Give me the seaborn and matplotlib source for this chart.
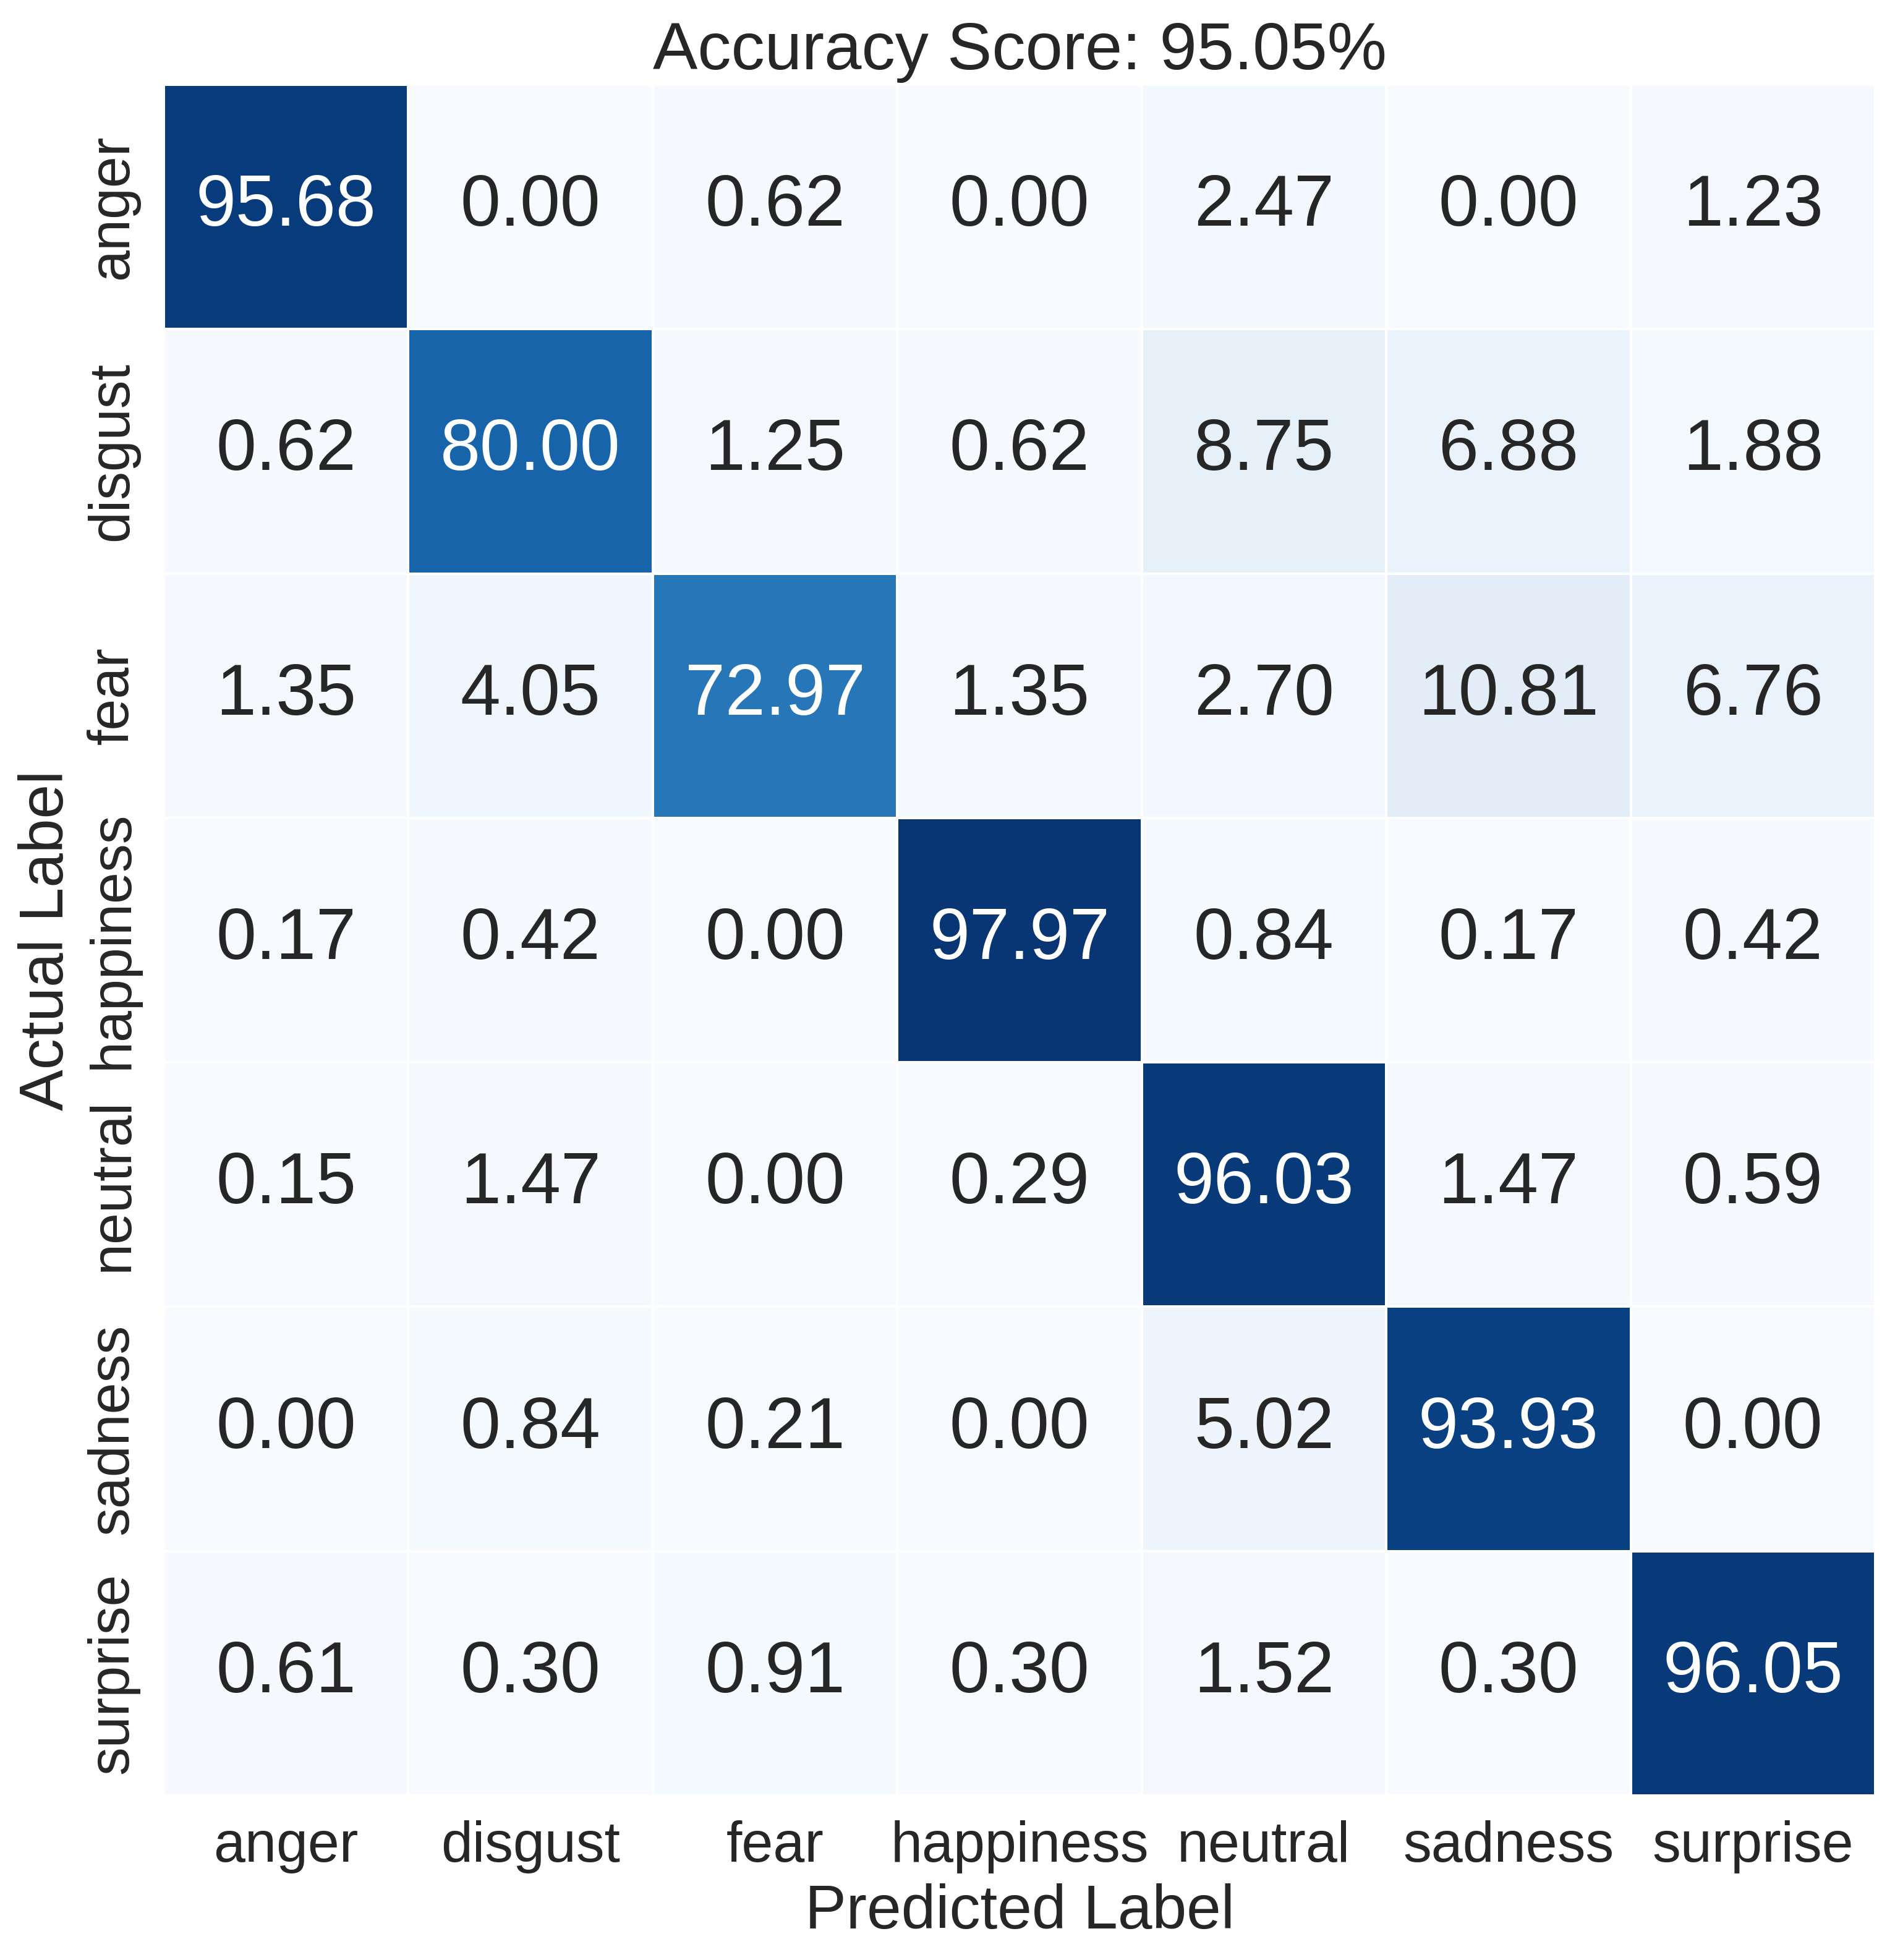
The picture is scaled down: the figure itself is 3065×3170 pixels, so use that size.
import seaborn as sns
import matplotlib.pyplot as plt
import numpy as np

# class names
classes = ['anger', 'disgust', 'fear', 'happiness', 'neutral', 'sadness', 'surprise']

# row-normalised confusion matrix (percent), one list per actual class
anger = [95.68, 0.00, 0.62, 0.00, 2.47, 0.00, 1.23]
disgust = [0.62, 80.00, 1.25, 0.62, 8.75, 6.88, 1.88]
fear = [1.35, 4.05, 72.97, 1.35, 2.70, 10.81, 6.76]
happiness = [0.17, 0.42, 0.00, 97.97, 0.84, 0.17, 0.42]
neutral = [0.15, 1.47, 0.00, 0.29, 96.03, 1.47, 0.59]
sadness = [0.00, 0.84, 0.21, 0.00, 5.02, 93.93, 0.00]
surprise = [0.61, 0.30, 0.91, 0.30, 1.52, 0.30, 96.05]

accuracy = 95.05

cm = np.array([anger, disgust, fear, happiness, neutral, sadness, surprise])

sns.set(font_scale=2)
sns.set_style('white')
plt.rcParams['font.family'] = ['Liberation Sans', 'DejaVu Sans']

fig = plt.figure(figsize=(3065 / 300, 3170 / 300), dpi=300)
ax = fig.add_axes([265 / 3065, 1 - 2904 / 3170, 2768 / 3065, 2767 / 3170])
sns.heatmap(cm, annot=True, fmt='.2f', cmap='Blues', vmin=0, vmax=100,
            xticklabels=classes, yticklabels=classes, cbar=False,
            linewidths=0.5, linecolor='white',
            annot_kws={'size': 28}, ax=ax)

ax.set_title(f'Accuracy Score: {accuracy:.2f}%', fontsize=26)
ax.set_ylabel('Actual Label', fontsize=24)
ax.set_xlabel('Predicted Label', fontsize=24)
ax.tick_params(axis='both', labelsize=22)
plt.yticks(rotation=90, va='center')
plt.xticks(rotation=0)

fig.savefig('out.png', dpi=300)
